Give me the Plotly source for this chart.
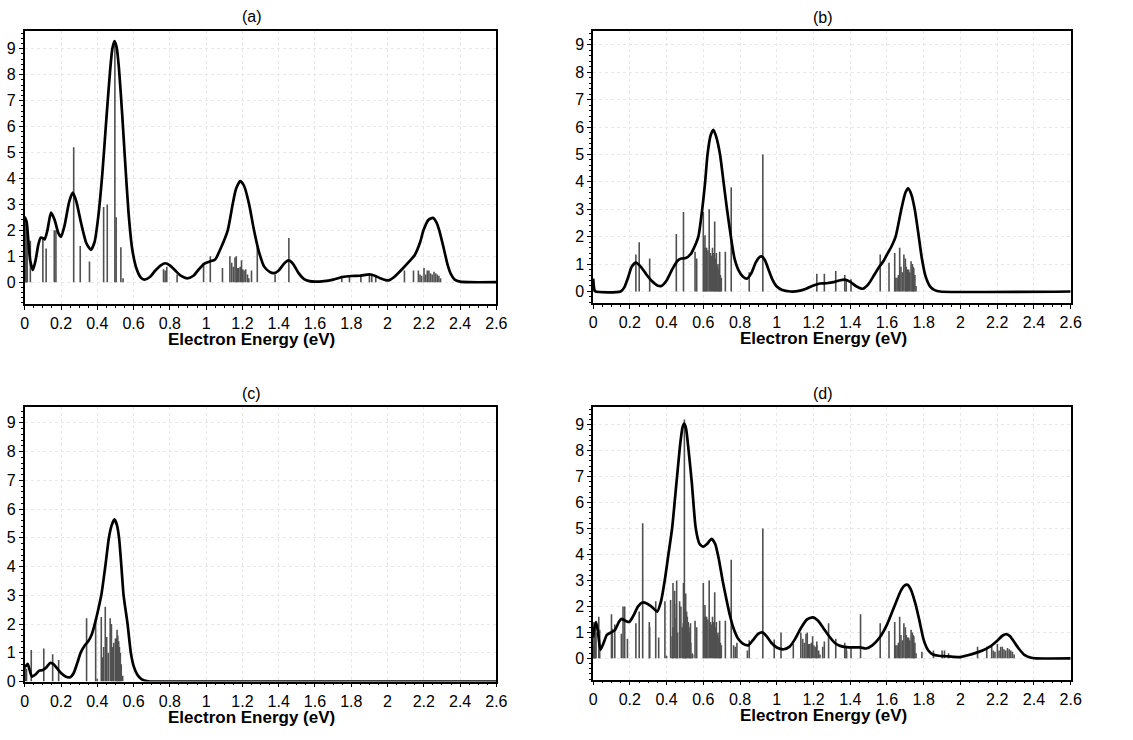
import plotly.graph_objects as go

# ---------------- data ----------------
a_curve_x = [0.000,0.010,0.020,0.030,0.045,0.060,0.075,0.088,0.100,0.110,0.125,0.145,0.165,0.185,0.200,0.220,0.245,0.265,0.285,0.310,0.340,0.365,0.385,0.405,0.428,0.450,0.470,0.483,0.495,0.507,0.520,0.537,0.553,0.572,0.592,0.615,0.640,0.660,0.690,0.720,0.750,0.775,0.800,0.830,0.860,0.895,0.930,0.960,0.990,1.020,1.050,1.080,1.119,1.146,1.165,1.188,1.210,1.237,1.264,1.290,1.320,1.350,1.375,1.400,1.430,1.455,1.480,1.510,1.540,1.570,1.600,1.650,1.700,1.750,1.800,1.850,1.900,1.930,1.960,1.990,2.010,2.040,2.080,2.120,2.150,2.180,2.198,2.225,2.250,2.270,2.285,2.310,2.330,2.350,2.370,2.400,2.450,2.600]
a_curve_y = [2.50,2.35,1.60,0.85,0.47,0.85,1.45,1.72,1.70,1.65,2.00,2.68,2.40,1.90,1.75,2.20,3.10,3.45,3.10,2.30,1.50,1.25,1.55,2.50,4.20,6.30,8.10,9.00,9.30,9.05,8.20,6.50,4.70,2.70,1.30,0.55,0.18,0.10,0.20,0.45,0.65,0.73,0.65,0.45,0.25,0.15,0.25,0.50,0.72,0.80,0.88,1.30,2.00,3.00,3.60,3.90,3.70,3.00,2.00,1.20,0.60,0.40,0.35,0.45,0.72,0.84,0.70,0.35,0.12,0.04,0.02,0.04,0.10,0.20,0.24,0.25,0.30,0.25,0.15,0.08,0.08,0.22,0.50,0.80,1.05,1.55,2.00,2.40,2.48,2.30,2.00,1.30,0.70,0.30,0.10,0.02,0.00,0.00]

b_curve_x = [0.000,0.006,0.012,0.150,0.170,0.190,0.210,0.233,0.260,0.290,0.320,0.350,0.372,0.400,0.430,0.460,0.480,0.505,0.530,0.550,0.573,0.594,0.610,0.623,0.640,0.655,0.670,0.691,0.710,0.729,0.750,0.770,0.790,0.815,0.838,0.860,0.885,0.905,0.917,0.935,0.955,0.975,1.000,1.030,1.074,1.120,1.160,1.200,1.235,1.270,1.310,1.340,1.370,1.400,1.430,1.468,1.500,1.530,1.558,1.580,1.600,1.625,1.647,1.678,1.700,1.715,1.732,1.751,1.773,1.790,1.810,1.835,1.860,1.890,2.600]
b_curve_y = [0.47,0.10,0.00,0.00,0.15,0.50,0.90,1.05,0.90,0.62,0.38,0.22,0.20,0.40,0.80,1.12,1.20,1.22,1.35,1.60,2.00,3.00,4.00,5.00,5.70,5.90,5.65,5.00,4.00,3.00,2.00,1.20,0.80,0.55,0.47,0.65,1.05,1.25,1.28,1.15,0.80,0.45,0.18,0.05,0.00,0.02,0.10,0.22,0.29,0.30,0.34,0.40,0.43,0.35,0.20,0.10,0.28,0.60,0.90,1.10,1.35,1.65,2.00,3.00,3.60,3.76,3.55,3.00,2.00,1.20,0.55,0.18,0.05,0.00,0.00]

c_curve_x = [0.000,0.008,0.016,0.025,0.040,0.060,0.080,0.100,0.120,0.141,0.160,0.180,0.200,0.225,0.250,0.270,0.290,0.308,0.330,0.350,0.370,0.386,0.405,0.422,0.444,0.464,0.480,0.495,0.508,0.520,0.533,0.545,0.567,0.585,0.600,0.620,0.645,0.680,0.720,2.600]
c_curve_y = [0.55,0.55,0.62,0.45,0.17,0.25,0.38,0.40,0.50,0.65,0.60,0.45,0.30,0.18,0.15,0.30,0.65,1.00,1.25,1.40,1.65,2.00,2.50,3.00,4.00,5.00,5.45,5.64,5.45,5.00,4.00,3.00,2.00,1.00,0.55,0.25,0.08,0.01,0.00,0.00]

d_curve_x = [0.000,0.008,0.016,0.025,0.040,0.055,0.075,0.098,0.120,0.140,0.155,0.175,0.197,0.220,0.245,0.269,0.295,0.325,0.349,0.370,0.390,0.410,0.430,0.457,0.475,0.487,0.496,0.506,0.520,0.537,0.559,0.580,0.600,0.620,0.645,0.665,0.685,0.705,0.725,0.745,0.765,0.790,0.815,0.845,0.870,0.900,0.922,0.945,0.970,1.000,1.038,1.070,1.100,1.130,1.165,1.196,1.225,1.255,1.285,1.315,1.345,1.380,1.420,1.455,1.486,1.520,1.560,1.600,1.640,1.675,1.695,1.712,1.730,1.755,1.775,1.800,1.825,1.850,1.880,1.920,1.960,2.000,2.040,2.080,2.120,2.160,2.200,2.230,2.250,2.270,2.295,2.320,2.350,2.380,2.410,2.600]
d_curve_y = [0.80,1.20,1.40,1.10,0.33,0.55,0.90,1.00,1.10,1.40,1.52,1.45,1.40,1.65,2.00,2.15,2.10,1.95,1.80,2.20,3.00,4.00,5.00,7.00,8.30,8.90,9.04,8.85,8.00,6.80,5.00,4.40,4.30,4.40,4.60,4.40,3.80,3.00,2.30,1.65,1.15,0.75,0.57,0.50,0.70,0.95,1.00,0.85,0.60,0.42,0.35,0.45,0.75,1.15,1.50,1.58,1.45,1.15,0.85,0.60,0.48,0.43,0.42,0.42,0.38,0.50,0.80,1.30,2.00,2.60,2.80,2.83,2.65,2.10,1.50,0.70,0.30,0.15,0.10,0.08,0.06,0.05,0.12,0.20,0.30,0.45,0.68,0.88,0.93,0.85,0.60,0.35,0.12,0.03,0.00,0.00]

# near-zero transitions of (a)
a_zero_x = [0.002,0.005,0.008,0.011,0.014]
a_zero_h = [2.55,2.50,2.30,1.90,1.50]

a_stick_x = [0.031,0.100,0.118,0.163,0.172,0.270,0.306,0.357,0.435,0.455,0.497,0.504,0.530,0.542,0.765,0.774,0.783,0.840,0.986,1.023,1.090,1.131,1.141,1.150,1.159,1.166,1.173,1.180,1.188,1.195,1.202,1.209,1.218,1.228,1.235,1.250,1.282,1.380,1.456,1.748,1.790,1.853,1.900,1.913,1.935,2.093,2.143,2.170,2.179,2.188,2.201,2.210,2.219,2.228,2.237,2.246,2.256,2.265,2.274,2.283,2.292]
a_stick_h = [1.60,1.70,1.30,2.00,2.00,5.20,1.40,0.80,2.90,3.00,9.20,2.50,1.35,0.15,0.50,0.45,0.60,0.30,0.73,1.00,0.55,1.00,0.75,0.60,0.95,1.00,0.55,0.55,0.60,0.85,0.50,0.45,0.50,0.30,0.15,0.45,1.35,0.30,1.70,0.25,0.25,0.30,0.30,0.30,0.20,0.45,0.45,0.45,0.30,0.25,0.55,0.30,0.45,0.45,0.35,0.30,0.40,0.35,0.30,0.25,0.15]

b_stick_x = [0.002,0.233,0.251,0.308,0.453,0.492,0.555,0.564,0.600,0.609,0.618,0.632,0.639,0.650,0.662,0.671,0.680,0.689,0.698,0.720,0.752,0.850,0.924,1.218,1.259,1.321,1.370,1.378,1.404,1.563,1.611,1.642,1.648,1.655,1.669,1.676,1.692,1.700,1.710,1.718,1.731,1.738,1.746,1.758,
             0.604,0.614,0.625,0.645,0.656,0.666,0.676,0.685,0.693,1.662,1.684,1.705,1.724,1.742,1.752]
b_stick_h = [0.45,1.35,1.80,1.20,2.10,2.90,1.45,1.20,2.90,2.05,1.60,3.00,1.40,1.60,2.55,1.40,1.00,1.45,0.50,1.45,3.80,0.70,5.00,0.65,0.65,0.75,0.60,0.45,0.45,1.35,1.05,1.40,0.50,0.50,1.60,0.90,1.35,1.20,0.80,0.80,1.10,1.00,0.85,0.20,
             1.60,1.60,1.50,1.30,1.40,1.20,0.90,0.80,0.60,0.60,0.70,0.90,0.70,0.90,0.60]

c_stick_x = [0.003,0.010,0.036,0.105,0.154,0.187,0.341,0.391,0.400,0.422,0.430,0.444,0.452,0.471,0.478,0.491,0.500,0.509,0.518,0.527,0.540,
             0.435,0.460,0.485,0.505,0.513,0.522,0.532]
c_stick_h = [0.55,0.45,1.10,1.15,0.95,0.75,2.20,2.20,0.10,2.25,0.85,2.60,1.55,2.20,2.00,1.35,1.50,1.80,1.40,1.00,0.20,
             1.20,1.00,1.20,1.50,1.60,1.20,0.60]

# near-zero transitions seen in (d)
d_zero_x = [0.004,0.008,0.012,0.016]
d_zero_h = [1.40,1.35,1.20,1.00]

# panel (d) shows the transitions of (a), (b) and (c) together
d_stick_x = d_zero_x + a_stick_x + b_stick_x + c_stick_x
d_stick_h = d_zero_h + a_stick_h + b_stick_h + c_stick_h

panel_labels = ["(a)", "(b)", "(c)", "(d)"]
x_title = "Electron Energy (eV)"
x_ticks = [0, 0.2, 0.4, 0.6, 0.8, 1, 1.2, 1.4, 1.6, 1.8, 2, 2.2, 2.4, 2.6]
y_ticks = [0, 1, 2, 3, 4, 5, 6, 7, 8, 9]

panels = [
    (a_curve_x, a_curve_y, a_zero_x + a_stick_x, a_zero_h + a_stick_h),
    (b_curve_x, b_curve_y, b_stick_x, b_stick_h),
    (c_curve_x, c_curve_y, c_stick_x, c_stick_h),
    (d_curve_x, d_curve_y, d_stick_x, d_stick_h),
]

# ---------------- layout geometry (pixels) ----------------
W, H = 1133, 740
boxes = [  # x0, x1, ytop, ybottom
    (21, 499, 31, 308),
    (597, 1081, 31.5, 307),
    (21, 499, 412, 690),
    (597, 1081, 412, 688),
]
text_cx = [251, 830, 251, 830]   # horizontal centre of the panel texts
y_ranges = [(-0.85, 9.7), (-0.43, 9.5), (0.0, 9.55), (-0.82, 9.68)]

FONT = "Liberation Sans, Arial, Helvetica, sans-serif"
fig = go.Figure()

for i, (cx, cy, sx, sh) in enumerate(panels):
    n = "" if i == 0 else str(i + 1)
    xs, ys = [], []
    for xv, hv in zip(sx, sh):
        xs += [xv, xv, None]
        ys += [0, hv, None]
    fig.add_trace(go.Scatter(x=xs, y=ys, mode="lines",
                             line=dict(color="#505050", width=1.6),
                             xaxis="x" + n, yaxis="y" + n, hoverinfo="skip",
                             showlegend=False))
    fig.add_trace(go.Scatter(x=cx, y=cy, mode="lines",
                             line=dict(color="black", width=2.7, shape="spline", smoothing=0.6),
                             xaxis="x" + n, yaxis="y" + n, showlegend=False))

    x0, x1, yt, yb = boxes[i]
    axcommon = dict(showline=True, linecolor="black", linewidth=1.5, mirror=True,
                    ticks="outside", ticklen=4, tickcolor="black", tickwidth=1,
                    showgrid=True, gridcolor="#e8e8e8", griddash="dot", gridwidth=1,
                    zeroline=False, tickfont=dict(family=FONT, size=16, color="black"))
    fig.update_layout(**{
        "xaxis" + n: dict(axcommon, domain=[x0 / W, x1 / W], range=[0, 2.6],
                          anchor="y" + n, tickvals=x_ticks,
                          ticktext=[("%g" % t) for t in x_ticks],
                          minor=dict(dtick=0.05, ticks="outside", ticklen=2, tickcolor="black", showgrid=False)),
        "yaxis" + n: dict(axcommon, domain=[1 - yb / H, 1 - yt / H], range=list(y_ranges[i]),
                          anchor="x" + n, tickvals=y_ticks,
                          minor=dict(dtick=0.2, ticks="outside", ticklen=2, tickcolor="black", showgrid=False)),
    })
    fig.add_annotation(text=panel_labels[i], x=text_cx[i] / W, y=1 - (yt - 14) / H,
                       xref="paper", yref="paper", showarrow=False,
                       xanchor="center", yanchor="middle",
                       font=dict(family=FONT, size=16, color="black"))
    fig.add_annotation(text="<b>" + x_title + "</b>", x=text_cx[i] / W, y=1 - (yb + 36) / H,
                       xref="paper", yref="paper", showarrow=False,
                       xanchor="center", yanchor="middle",
                       font=dict(family=FONT, size=17, color="black"))

fig.update_layout(width=W, height=H, margin=dict(l=0, r=0, t=0, b=0),
                  paper_bgcolor="white", plot_bgcolor="white", showlegend=False)
fig.write_html("out.html")
